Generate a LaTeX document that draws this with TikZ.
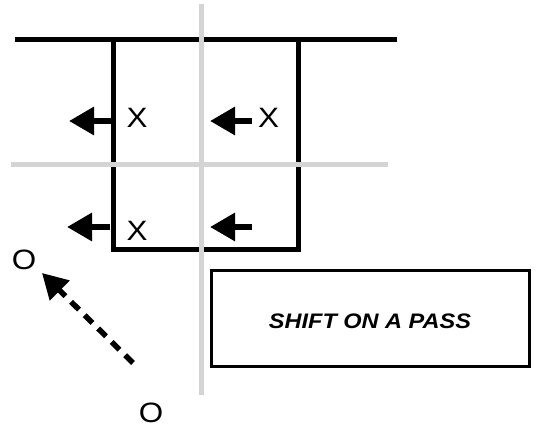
\documentclass[tikz,border=0pt]{standalone}
\usepackage{fontspec}
\setmainfont{Liberation Sans}
\newfontfamily\widefont[FakeStretch=1.12]{Liberation Sans}
\usetikzlibrary{arrows.meta}
\definecolor{gridgray}{HTML}{D4D4D4}
\tikzset{
  wall/.style={line width=5pt},
  gridline/.style={line width=5pt, draw=gridgray},
  move/.style={line width=6pt, -{Triangle[length=25pt,width=27pt]}},
  pass/.style={line width=5.5pt, dash pattern=on 11pt off 8pt, -{Triangle[length=25pt,width=27pt]}},
  player/.style={inner sep=0pt, font=\widefont\fontsize{28}{28}\selectfont},
  caption/.style={draw, line width=3pt, minimum width=318pt, minimum height=96pt, inner sep=0pt,
    text height=20pt, text depth=0pt, font=\widefont\fontsize{21}{21}\selectfont\bfseries\itshape}
}
\begin{document}
\begin{tikzpicture}[x=1pt,y=-1pt]
\useasboundingbox (0,0) rectangle (541,427);
% walls
\coordinate (tl) at (15,40);
\coordinate (tr) at (397,40);
\coordinate (bl1) at (113.5,40);
\coordinate (bl2) at (113.5,250);
\coordinate (br1) at (298,40);
\coordinate (br2) at (298,250);
\draw[wall] (tl) -- (tr);
\draw[wall, line cap=rect] (bl1) -- (bl2) -- (br2) -- (br1);
% grid lines
\coordinate (gv1) at (201.5,4);
\coordinate (gv2) at (201.5,395);
\coordinate (gh1) at (11,165);
\coordinate (gh2) at (388,165);
\draw[gridline] (gv1) -- (gv2);
\draw[gridline] (gh1) -- (gh2);
% arrows
\coordinate (a1s) at (111,121); \coordinate (a1e) at (69,121);
\coordinate (a2s) at (252,121); \coordinate (a2e) at (210,121);
\coordinate (a3s) at (110,227); \coordinate (a3e) at (67,227);
\coordinate (a4s) at (252,227); \coordinate (a4e) at (210,227);
\draw[move] (a1s) -- (a1e);
\draw[move] (a2s) -- (a2e);
\draw[move] (a3s) -- (a3e);
\draw[move] (a4s) -- (a4e);
% players
\node[player] (x1) at (137,118) {X};
\node[player] (x2) at (268.5,118) {X};
\node[player] (x3) at (137,231) {X};
\node[player] (o1) at (24,260) {O};
\node[player] (o2) at (151,413) {O};
% pass
\coordinate (ps) at (133,363);
\coordinate (pe) at (42,273);
\draw[pass] (ps) -- (pe);
% caption
\node[caption] (cap) at (370,319) {SHIFT ON A PASS};
\end{tikzpicture}
\end{document}
